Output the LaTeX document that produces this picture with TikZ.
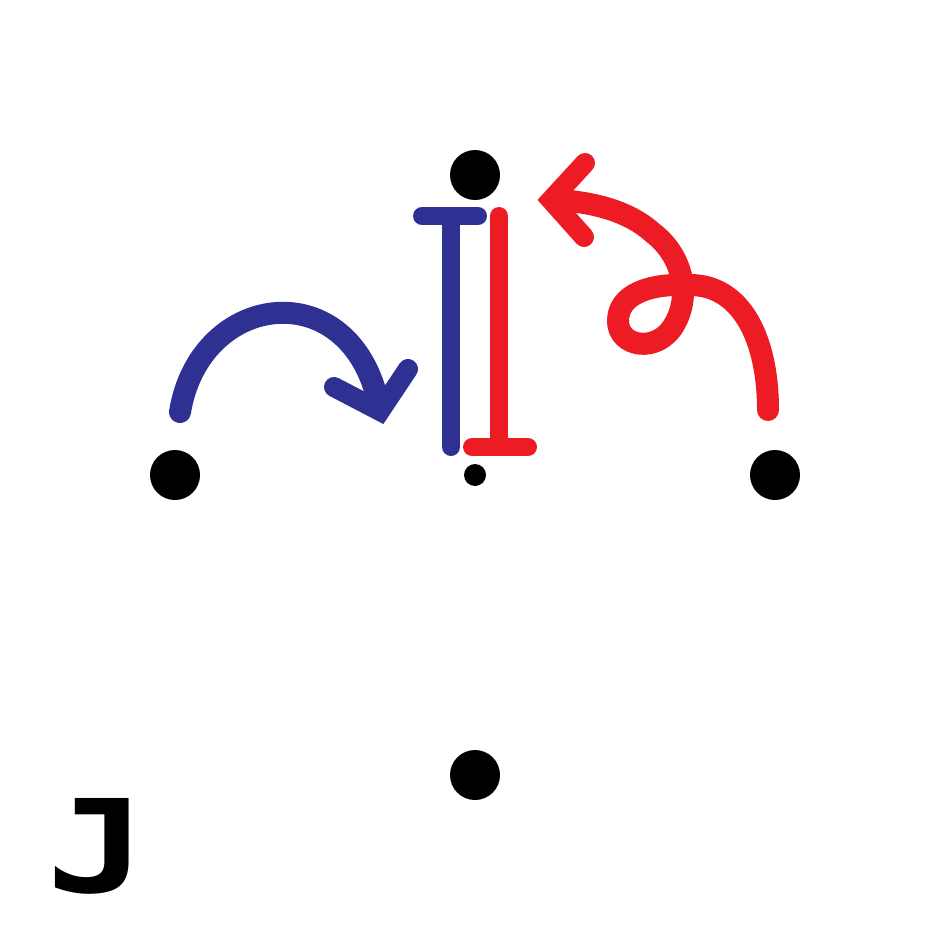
\documentclass[tikz,border=0pt]{standalone}
\usepackage{fontspec}
\newfontfamily\jfont{DejaVu Sans Mono}
\definecolor{myblue}{HTML}{2E3192}
\definecolor{myred}{HTML}{ED1C24}
\begin{document}
\begin{tikzpicture}[x=1pt,y=-1pt,
 dot/.style={circle,fill=black,inner sep=0pt,minimum size=50pt},
 smalldot/.style={circle,fill=black,inner sep=0pt,minimum size=22pt},
 stroke/.style={line width=18pt,line cap=round,line join=round},
 arc/.style={line width=22pt,line cap=round,line join=round},
 chev/.style={line width=20pt,line cap=round,line join=miter}]
\useasboundingbox (0,0) rectangle (950,950);
\node[dot] (top) at (475,175) {};
\node[dot] (left) at (175,475) {};
\node[dot] (right) at (775,475) {};
\node[dot] (bottom) at (475,775) {};
\node[smalldot] (center) at (475,475) {};
% blue T
\draw[stroke,myblue] (422,216) -- (478,216);
\draw[stroke,myblue] (451,216) -- (451,447);
% red inverted T
\draw[stroke,myred] (499,216) -- (499,447);
\draw[stroke,myred] (472,447) -- (528,447);
% blue arrow
\draw[arc,myblue] (180,412) .. controls (200,290) and (352,272) .. (379,406);
\draw[chev,myblue] (334,387) -- (380,411) -- (408,369);
% red arrow
\draw[arc,myred] (768,410) .. controls (768,340) and (742,285) .. (690,285)
  .. controls (648,283) and (618,295) .. (618,321)
  .. controls (618,347) and (657,354) .. (674,325)
  .. controls (692,295) and (682,255) .. (653,233)
  .. controls (630,212) and (595,202) .. (556,200);
\draw[chev,myred] (585,163) -- (551,200) -- (584,237);
% J
\node[font=\jfont\bfseries\fontsize{129}{129}\selectfont, inner sep=0pt, anchor=base] (J) at (97,892) {\scalebox{1.3}[1]{J}};
\end{tikzpicture}
\end{document}
